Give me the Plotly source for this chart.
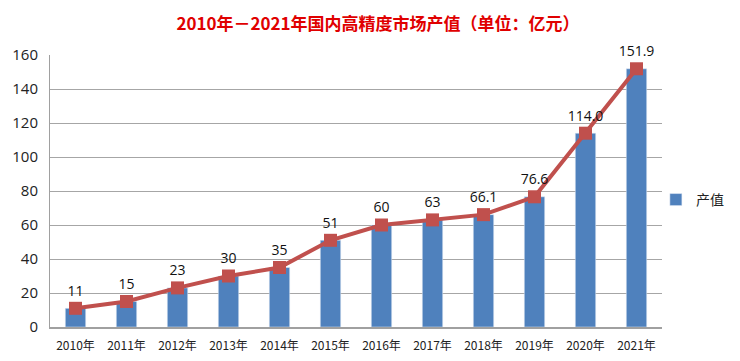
import plotly.graph_objects as go

years = ["2010年", "2011年", "2012年", "2013年", "2014年", "2015年",
         "2016年", "2017年", "2018年", "2019年", "2020年", "2021年"]
values = [11, 15, 23, 30, 35, 51, 60, 63, 66.1, 76.6, 114.0, 151.9]
labels = ["11", "15", "23", "30", "35", "51", "60", "63", "66.1", "76.6", "114.0", "151.9"]
y_ticks = [0, 20, 40, 60, 80, 100, 120, 140, 160]

font_main = "Noto Sans CJK SC, Open Sans, sans-serif"

fig = go.Figure()
fig.add_trace(go.Bar(
    x=years, y=values, name="产值",
    marker=dict(color="#4F81BD"),
    showlegend=True,
))
fig.add_trace(go.Scatter(
    x=years, y=values, mode="lines+markers+text",
    text=labels, textposition="top center",
    textfont=dict(size=14, color="#111111", family="Open Sans, sans-serif"),
    line=dict(color="#C0504D", width=4),
    marker=dict(symbol="square", size=13, color="#C0504D"),
    showlegend=False, cliponaxis=False,
))

fig.update_layout(
    width=740, height=361,
    margin=dict(l=42, r=86, t=47, b=42, autoexpand=False),
    paper_bgcolor="white", plot_bgcolor="white",
    bargap=0.6,
    title=dict(text="<b>2010年－2021年国内高精度市场产值（单位：亿元）</b>",
               x=0.5, xanchor="center", y=0.955, yanchor="middle",
               font=dict(size=17, color="#E00000", family=font_main)),
    xaxis=dict(range=[-0.5, len(years) - 0.5],
               tickfont=dict(size=12, color="#222222", family=font_main),
               showline=True, linecolor="#A0A0A0", linewidth=1.5,
               ticks="outside", ticklen=7, tickcolor="rgba(0,0,0,0)"),
    yaxis=dict(range=[0, 160], tickvals=y_ticks,
               tickfont=dict(size=15, color="#222222", family="Open Sans, sans-serif"),
               showgrid=True, gridcolor="#A6A6A6", gridwidth=1,
               showline=True, linecolor="#A0A0A0", linewidth=1, zeroline=False,
               ticks="outside", ticklen=8, tickcolor="rgba(0,0,0,0)"),
    legend=dict(x=0.99, y=0.467, xanchor="left", yanchor="middle",
                font=dict(size=14, color="#222222", family=font_main),
                bgcolor="rgba(0,0,0,0)"),
)

fig.write_html("out.html")
